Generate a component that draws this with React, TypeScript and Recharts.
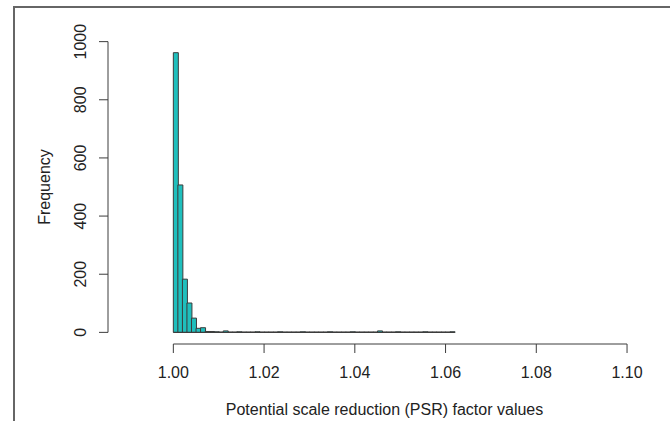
import React from 'react';
import { ComposedChart, Bar, XAxis, YAxis, ReferenceLine } from 'recharts';

// histogram of PSR values, bins of 0.001 starting at 1.000
const BIN_START = 1.0;
const BIN_WIDTH = 0.001;
const counts = [
  962, 507, 183, 101, 49, 14, 16, 3, 3, 2,
  1, 5, 1, 1, 2, 1, 1, 1, 2, 1,
  1, 1, 1, 2, 1, 1, 1, 1, 2, 1,
  1, 1, 1, 1, 2, 1, 1, 1, 1, 2,
  1, 1, 1, 1, 1, 5, 1, 1, 1, 2,
  1, 1, 1, 1, 1, 2, 1, 1, 1, 1,
  1, 2,
];

const xTicks = [1.0, 1.02, 1.04, 1.06, 1.08, 1.1];
const yTicks = [0, 200, 400, 600, 800, 1000];
const xDomain = [0.9856, 1.1044];
const yDomain = [-40, 1040];

const data = counts.map((n, i) => ({ mid: BIN_START + (i + 0.5) * BIN_WIDTH, n }));
const binEnd = BIN_START + counts.length * BIN_WIDTH;

const FONT = '"Liberation Sans", Arial, Helvetica, sans-serif';
const FS = 16;
const INK = '#3c3c3c';

const YTick = (props: any) => {
  const { x, y, payload } = props;
  return (
    <text
      x={x}
      y={y}
      transform={`rotate(-90 ${x} ${y})`}
      textAnchor="middle"
      fontFamily={FONT}
      fontSize={FS}
      fill="#222"
    >
      {payload.value}
    </text>
  );
};

export default function App() {
  return (
    <div style={{ position: 'fixed', left: 0, top: 0, width: 670, height: 421, background: '#fff' }}>
      {/* cropped frame of the original screenshot */}
      <div
        style={{
          position: 'absolute',
          left: 13,
          top: 6,
          right: 0,
          bottom: 0,
          borderTop: '2px solid #666',
          borderLeft: '2px solid #666',
        }}
      />
      <div style={{ position: 'absolute', left: 0, top: 0 }}>
        <ComposedChart
          width={670}
          height={421}
          data={data}
          margin={{ top: 30, right: 23, left: 0, bottom: 0 }}
          barCategoryGap={0}
          barGap={0}
        >
          <XAxis
            dataKey="mid"
            type="number"
            domain={xDomain}
            allowDataOverflow
            ticks={xTicks}
            interval={0}
            tickFormatter={(v: number) => v.toFixed(2)}
            axisLine={false}
            tickLine={{ stroke: INK }}
            tickSize={9}
            tickMargin={14}
            height={77}
            tick={{ fontFamily: FONT, fontSize: FS, fill: '#222' }}
            label={{
              position: 'insideBottom',
              content: (p: any) => (
                <text
                  x={p.viewBox.x + p.viewBox.width / 2 + 7}
                  y={415}
                  textAnchor="middle"
                  fontFamily={FONT}
                  fontSize={FS}
                  fill="#222"
                >
                  Potential scale reduction (PSR) factor values
                </text>
              ),
            }}
          />
          <YAxis
            type="number"
            domain={yDomain}
            allowDataOverflow
            ticks={yTicks}
            interval={0}
            axisLine={false}
            tickLine={{ stroke: INK }}
            tickSize={9}
            tickMargin={12.5}
            width={108}
            tick={<YTick />}
            label={{
              position: 'insideLeft',
              content: (p: any) => (
                <text
                  x={49.5}
                  y={p.viewBox.y + p.viewBox.height / 2}
                  transform={`rotate(-90 49.5 ${p.viewBox.y + p.viewBox.height / 2})`}
                  textAnchor="middle"
                  fontFamily={FONT}
                  fontSize={FS}
                  fill="#222"
                >
                  Frequency
                </text>
              ),
            }}
          />
          <Bar dataKey="n" fill="#1fbfbd" stroke={INK} strokeWidth={1} isAnimationActive={false} />
          {/* R-style axis lines only spanning the tick range */}
          <ReferenceLine
            segment={[{ x: xTicks[0], y: yDomain[0] }, { x: xTicks[xTicks.length - 1], y: yDomain[0] }]}
            stroke={INK}
            ifOverflow="visible"
          />
          <ReferenceLine
            segment={[{ x: xDomain[0], y: yTicks[0] }, { x: xDomain[0], y: yTicks[yTicks.length - 1] }]}
            stroke={INK}
            ifOverflow="visible"
          />
          <ReferenceLine
            segment={[{ x: BIN_START, y: 0 }, { x: binEnd, y: 0 }]}
            stroke={INK}
            ifOverflow="visible"
          />
        </ComposedChart>
      </div>
    </div>
  );
}
